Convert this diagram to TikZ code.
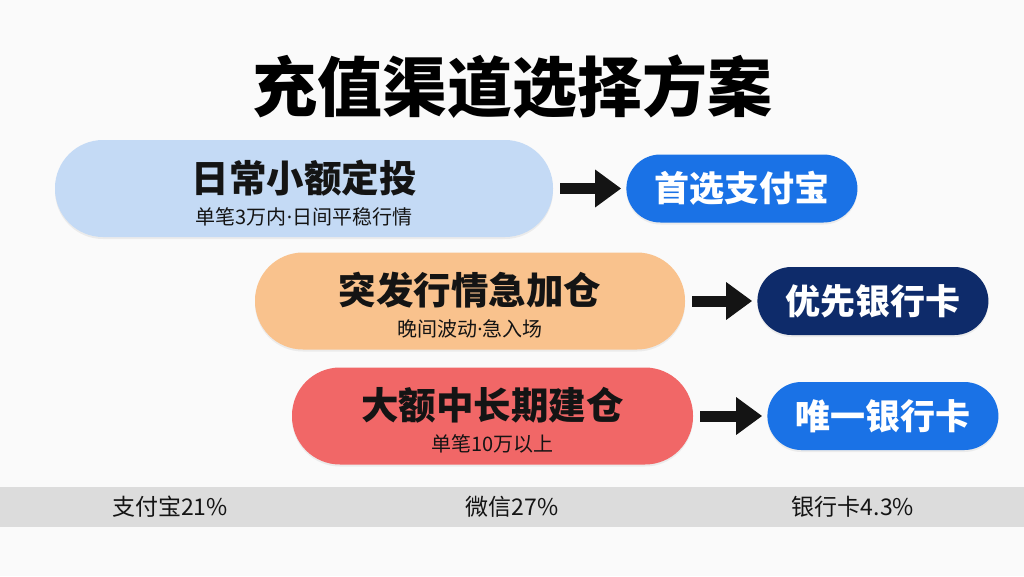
\documentclass[tikz,border=0pt]{standalone}
\usepackage{fontspec}
\setmainfont{Noto Sans CJK SC}
\newfontfamily\dotfont{Noto Sans}
\usepackage{tikz}
\usetikzlibrary{
	positioning,
	arrows.meta,
	shadows
}
\definecolor{PageGray}{RGB}{250,250,250}
\definecolor{BandGray}{RGB}{220,220,220}
\definecolor{DailyBlue}{RGB}{196,218,245}
\definecolor{SuddenPeach}{RGB}{249,194,141}
\definecolor{LargeCoral}{RGB}{241,103,103}
\definecolor{ChannelBlue}{RGB}{26,114,230}
\definecolor{ChannelNavy}{RGB}{14,43,106}
\definecolor{InkBlack}{RGB}{20,20,20}
\tikzset{
	case/.style={
		rounded corners=48pt,
		minimum height=97pt,
		align=center,
		text=InkBlack,
		font=\fontsize{20}{32}\selectfont,
		drop shadow={opacity=0.12,shadow xshift=0pt,shadow yshift=-2pt}
	},
	choice/.style={
		rounded corners=34pt,
		minimum width=231pt,
		minimum height=68pt,
		text=white,
		font=\fontsize{35}{38}\selectfont\bfseries,
		drop shadow={opacity=0.12,shadow xshift=0pt,shadow yshift=-2pt}
	},
	goes/.style={
		-{Triangle[length=26pt,width=36pt]},
		line width=11pt,
		InkBlack,
		shorten <=7pt,
		shorten >=5pt
	},
	share/.style={
		font=\fontsize{23}{25}\selectfont,
		text=InkBlack
	}
}
\newcommand{\casetext}[2]{%
	{\fontsize{37.5}{40}\selectfont\bfseries\rule{0pt}{41pt}#1}\\
	#2}
\newcommand{\middot}{{\dotfont ·}}

\begin{document}
\begin{tikzpicture}[x=1pt,y=1pt]
				
				\fill[PageGray] (0,0) rectangle (1024,-576);
				\useasboundingbox (0,0) rectangle (1024,-576);
				\fill[BandGray] (0,-487) rectangle (1024,-527);
				
				\node[
				font=\fontsize{65}{70}\selectfont\bfseries,
				text=black
				] (title) at (512,-87) {充值渠道选择方案};
				
				\node[
				case,
				fill=DailyBlue,
				minimum width=498pt
				] (daily) at (304,-188.5) {\casetext{日常小额定投}{单笔3万内\middot 日间平稳行情}};
				
				\node[
				case,
				fill=SuddenPeach,
				minimum width=430pt
				] (sudden) at (470,-301) {\casetext{突发行情急加仓}{晚间波动\middot 急入场}};
				
				\node[
				case,
				fill=LargeCoral,
				minimum width=401pt
				] (large) at (492.5,-416) {\casetext{大额中长期建仓}{单笔10万以上}};
				
				\node[
				choice,
				fill=ChannelBlue,
				right=73pt of daily
				] (alipay) {首选支付宝};
				
				\node[
				choice,
				fill=ChannelNavy,
				right=72pt of sudden
				] (bankfirst) {优先银行卡};
				
				\node[
				choice,
				fill=ChannelBlue,
				right=74pt of large
				] (bankonly) {唯一银行卡};
				
				\draw[goes] (daily) -- (alipay);
				\draw[goes] (sudden) -- (bankfirst);
				\draw[goes] (large) -- (bankonly);
				
				\node[share] (sharealipay) at (170,-507) {支付宝21\%};
				\node[share] (sharewechat) at (512,-507) {微信27\%};
				\node[share] (sharebank) at (853,-507) {银行卡4.3\%};
				
			\end{tikzpicture}
\end{document}
